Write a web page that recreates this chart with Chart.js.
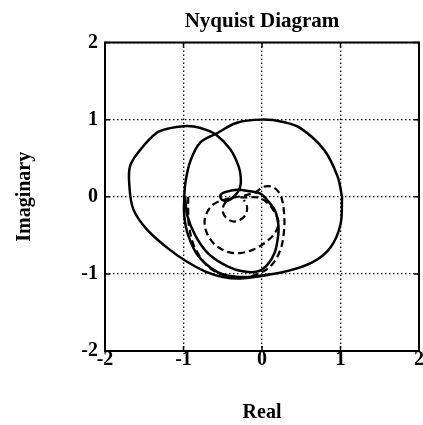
<!DOCTYPE html>
<html>
<head>
<meta charset="utf-8">
<script src="https://cdn.jsdelivr.net/npm/chart.js@4/dist/chart.umd.min.js"></script>
<style>
  html, body { margin: 0; padding: 0; background: #fff; }
  canvas { display: block; }
</style>
</head>
<body>
<canvas id="nyquist" width="423" height="425"></canvas>
<script>
// Ticks on both axes
const tickValues = [-2, -1, 0, 1, 2];

// Solid curve: the big loop round the origin
const circleRe = [1.02, 1.00, 0.87, 0.64, 0.30, 0.00, -0.30, -0.56, -0.81, -0.94, -0.99, -0.99, -0.97, -0.91, -0.79, -0.58, -0.32, 0.00, 0.27, 0.49, 0.79, 0.96, 1.02];
const circleIm = [0.00, -0.36, -0.66, -0.85, -0.97, -1.02, -1.04, -0.98, -0.77, -0.50, -0.25, 0.00, 0.22, 0.47, 0.70, 0.82, 0.96, 1.00, 0.97, 0.89, 0.61, 0.27, 0.00];

// Solid curve: left loop, hook and inner circle
const loopRe = [0.10, -0.10, -0.30, -0.50, -0.72, -0.96, -1.21, -1.47, -1.64, -1.69, -1.68, -1.55, -1.34, -1.17, -1.00, -0.87, -0.72, -0.58, -0.40, -0.30, -0.27, -0.28, -0.34, -0.43, -0.51, -0.53, -0.47, -0.32, -0.15, -0.02, 0.08, 0.17, 0.21, 0.20, 0.16, 0.07, -0.06, -0.28, -0.50, -0.70, -0.85, -0.95, -0.98];
const loopIm = [-1.01, -1.04, -1.06, -1.04, -0.97, -0.84, -0.66, -0.42, -0.16, 0.15, 0.40, 0.61, 0.83, 0.89, 0.915, 0.91, 0.87, 0.80, 0.61, 0.40, 0.25, 0.12, 0.02, -0.05, -0.04, 0.02, 0.06, 0.09, 0.07, 0.04, -0.06, -0.19, -0.38, -0.55, -0.73, -0.88, -0.97, -0.96, -0.87, -0.72, -0.50, -0.25, 0.00];

// Dashed curve: spiral winding in
const spiralRe = [-0.94, -0.94, -0.93, -0.86, -0.69, -0.48, -0.25, -0.05, 0.11, 0.23, 0.28, 0.28, 0.24, 0.15, 0.02, -0.08, -0.25, -0.45, -0.62, -0.72, -0.72, -0.62, -0.45, -0.28, -0.10, 0.06, 0.17, 0.21, 0.16, 0.07, -0.05, -0.20, -0.36, -0.47, -0.50, -0.44, -0.33, -0.22, -0.19, -0.23];
const spiralIm = [0.00, -0.20, -0.38, -0.65, -0.90, -1.02, -1.05, -1.00, -0.90, -0.70, -0.45, -0.20, 0.01, 0.12, 0.13, 0.06, 0.01, -0.03, -0.10, -0.25, -0.42, -0.60, -0.71, -0.73, -0.68, -0.58, -0.46, -0.33, -0.20, -0.08, -0.01, -0.01, -0.01, -0.08, -0.19, -0.29, -0.32, -0.25, -0.14, -0.04];

const serif = "'Liberation Serif', 'Times New Roman', serif";

function pontos(re, im) {
    return re.map((x, i) => ({ x: x, y: im[i] }));
}

// Box round the plot area and small inward ticks
const moldura = {
    id: 'moldura',
    afterDatasetsDraw(chart) {
        const { ctx, chartArea: a, scales } = chart;
        ctx.save();
        ctx.strokeStyle = '#000';
        ctx.lineWidth = 2;
        ctx.setLineDash([]);
        ctx.strokeRect(a.left, a.top, a.right - a.left, a.bottom - a.top);
        ctx.lineWidth = 1.5;
        ctx.beginPath();
        tickValues.forEach(v => {
            const px = scales.x.getPixelForValue(v);
            const py = scales.y.getPixelForValue(v);
            ctx.moveTo(px, a.bottom); ctx.lineTo(px, a.bottom - 5);
            ctx.moveTo(px, a.top); ctx.lineTo(px, a.top + 5);
            ctx.moveTo(a.left, py); ctx.lineTo(a.left + 5, py);
            ctx.moveTo(a.right, py); ctx.lineTo(a.right - 5, py);
        });
        ctx.stroke();
        ctx.restore();
    }
};

const linha = { showLine: true, pointRadius: 0, borderColor: '#000', borderWidth: 2.5, tension: 0.35, fill: false };

new Chart(document.getElementById('nyquist'), {
    type: 'scatter',
    data: {
        datasets: [
            Object.assign({}, linha, { data: pontos(circleRe, circleIm) }),
            Object.assign({}, linha, { data: pontos(loopRe, loopIm) }),
            Object.assign({}, linha, { data: pontos(spiralRe, spiralIm), borderDash: [7, 4], borderWidth: 2.2 })
        ]
    },
    options: {
        responsive: false,
        animation: false,
        layout: { padding: { left: 0, right: 4, top: 0, bottom: 0 } },
        plugins: {
            legend: { display: false },
            tooltip: { enabled: false },
            title: { display: false }
        },
        scales: {
            x: {
                type: 'linear', position: 'bottom', min: -2, max: 2,
                afterBuildTicks: s => { s.ticks = tickValues.map(v => ({ value: v })); },
                ticks: { color: '#000', padding: -1, maxRotation: 0, font: { family: serif, size: 20, weight: 'bold', lineHeight: 1 } },
                grid: { color: '#000', lineWidth: 1.3, drawTicks: false },
                border: { display: false, dash: [1.5, 2.5] },
                title: { display: true, text: 'Real', color: '#000', padding: { top: 0, bottom: 0 }, font: { family: serif, size: 20, weight: 'bold' } },
                afterFit: s => { s.height = 74; }
            },
            y: {
                type: 'linear', position: 'left', min: -2, max: 2,
                afterBuildTicks: s => { s.ticks = tickValues.map(v => ({ value: v })); },
                ticks: { color: '#000', padding: 7, font: { family: serif, size: 20, weight: 'bold', lineHeight: 1 } },
                grid: { color: '#000', lineWidth: 1.3, drawTicks: false },
                border: { display: false, dash: [1.5, 2.5] },
                title: { display: true, text: 'Imaginary', color: '#000', padding: { top: 13, bottom: 0 }, font: { family: serif, size: 20, weight: 'bold' } },
                afterFit: s => { s.width = 105; }
            },
            x2: {
                type: 'linear', position: 'top', min: -2, max: 2,
                ticks: { display: false },
                grid: { display: false, drawTicks: false },
                border: { display: false },
                title: { display: true, text: 'Nyquist Diagram', color: '#000', padding: { top: 9, bottom: 0 }, font: { family: serif, size: 21, weight: 'bold' } },
                afterFit: s => { s.height = 42.5; }
            }
        }
    },
    plugins: [moldura]
});
</script>
</body>
</html>
